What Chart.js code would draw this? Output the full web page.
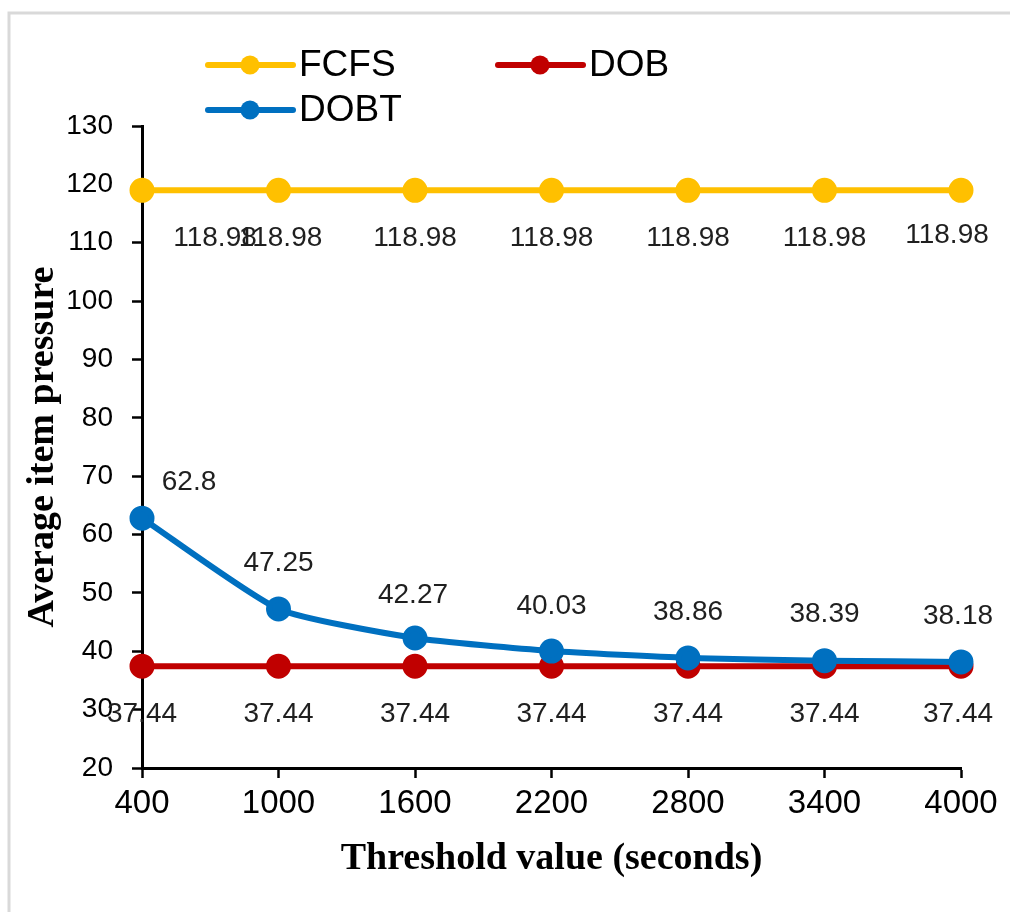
<!DOCTYPE html>
<html>
<head>
<meta charset="utf-8">
<script src="https://cdn.jsdelivr.net/npm/chart.js@4/dist/chart.umd.min.js"></script>
<style>
  html, body { margin: 0; padding: 0; background: #ffffff; overflow: hidden; }
  #wrap { width: 1010px; height: 912px; }
</style>
</head>
<body>
<div id="wrap"><canvas id="chart" width="1010" height="912"></canvas></div>
<script>
// Threshold values on the x axis (seconds)
const thresholds = ['400', '1000', '1600', '2200', '2800', '3400', '4000'];

// Average item pressure per scheduling policy
const fcfsValues = [118.98, 118.98, 118.98, 118.98, 118.98, 118.98, 118.98];
const dobValues  = [37.44, 37.44, 37.44, 37.44, 37.44, 37.44, 37.44];
const dobtValues = [62.8, 47.25, 42.27, 40.03, 38.86, 38.39, 38.18];

// Series names
const seriesNames = ['FCFS', 'DOB', 'DOBT'];

// Y axis range
const yMin = 20;
const yMax = 130;
const yStep = 10;

const COLORS = { FCFS: '#FFC000', DOB: '#C00000', DOBT: '#0070C0' };

// Value-label placement per series (pixel nudges relative to each point)
const labelPlacement = {
  FCFS: { dx: [73, 2, 0, 0, 0, 0, -14], dy: [48, 48, 48, 48, 48, 48, 45] },
  DOB:  { dx: [0, 0, 0, 0, 0, 0, -3],   dy: [48, 48, 48, 48, 48, 48, 48] },
  DOBT: { dx: [47, 0, -2, 0, 0, 0, -3], dy: [-36, -46, -43, -45, -46, -46, -46] }
};

// Legend entry positions (line start x, center y)
const legendSlots = [
  { x: 208, y: 65 },
  { x: 498, y: 65 },
  { x: 208, y: 110 }
];

const SANS = '"Liberation Sans", Arial, sans-serif';
const SERIF = '"Liberation Serif", "Times New Roman", serif';

function lineSet(name, values, order, tension) {
  return {
    label: name,
    data: values,
    borderColor: COLORS[name],
    backgroundColor: COLORS[name],
    pointBackgroundColor: COLORS[name],
    pointBorderColor: COLORS[name],
    borderWidth: 6,
    pointRadius: 9.5,
    pointHoverRadius: 9.5,
    tension: tension,
    order: order,
    fill: false
  };
}

// Outer chart frame (top and left edges; the rest runs past the canvas)
const framePlugin = {
  id: 'frame',
  beforeDraw(chart) {
    const ctx = chart.ctx;
    ctx.save();
    ctx.fillStyle = '#ffffff';
    ctx.fillRect(0, 0, chart.width, chart.height);
    ctx.strokeStyle = '#d9d9d9';
    ctx.lineWidth = 3;
    ctx.beginPath();
    ctx.moveTo(9, chart.height + 5);
    ctx.lineTo(9, 13);
    ctx.lineTo(chart.width + 5, 13);
    ctx.stroke();
    ctx.restore();
  }
};

// Numeric labels next to every point
const valueLabels = {
  id: 'valueLabels',
  afterDatasetsDraw(chart) {
    const ctx = chart.ctx;
    ctx.save();
    ctx.font = '28px ' + SANS;
    ctx.fillStyle = '#1f1f1f';
    ctx.textAlign = 'center';
    ctx.textBaseline = 'middle';
    chart.data.datasets.forEach((ds, i) => {
      const meta = chart.getDatasetMeta(i);
      const place = labelPlacement[ds.label];
      meta.data.forEach((pt, j) => {
        ctx.fillText(String(ds.data[j]), pt.x + place.dx[j], pt.y + place.dy[j]);
      });
    });
    ctx.restore();
  }
};

// Legend with line-and-marker swatches
const lineLegend = {
  id: 'lineLegend',
  afterDraw(chart) {
    const ctx = chart.ctx;
    ctx.save();
    chart.data.datasets.forEach((ds, i) => {
      const slot = legendSlots[i];
      ctx.strokeStyle = ds.borderColor;
      ctx.lineWidth = 6;
      ctx.lineCap = 'round';
      ctx.beginPath();
      ctx.moveTo(slot.x, slot.y);
      ctx.lineTo(slot.x + 85, slot.y);
      ctx.stroke();
      ctx.fillStyle = ds.borderColor;
      ctx.beginPath();
      ctx.arc(slot.x + 42, slot.y, 9.5, 0, Math.PI * 2);
      ctx.fill();
      ctx.fillStyle = '#000000';
      ctx.font = '37px ' + SANS;
      ctx.textAlign = 'left';
      ctx.textBaseline = 'middle';
      ctx.fillText(ds.label, slot.x + 91, slot.y + 1);
    });
    ctx.restore();
  }
};

new Chart(document.getElementById('chart'), {
  type: 'line',
  data: {
    labels: thresholds,
    datasets: [
      lineSet(seriesNames[0], fcfsValues, 2, 0),
      lineSet(seriesNames[1], dobValues, 1, 0),
      lineSet(seriesNames[2], dobtValues, 0, 0.18)
    ]
  },
  options: {
    responsive: false,
    animation: false,
    events: [],
    layout: { padding: { left: 0, top: 126, right: 49, bottom: 0 } },
    plugins: {
      legend: { display: false },
      tooltip: { enabled: false },
      title: { display: false }
    },
    scales: {
      x: {
        type: 'category',
        offset: false,
        afterFit(scale) { scale.height = 912 - 768; },
        grid: {
          drawOnChartArea: false,
          drawTicks: true,
          tickLength: 10,
          tickColor: '#000000',
          tickWidth: 2.5
        },
        border: { display: true, color: '#000000', width: 3 },
        ticks: {
          color: '#000000',
          font: { family: SANS, size: 33 },
          padding: 6,
          maxRotation: 0,
          autoSkip: false
        },
        title: {
          display: true,
          text: 'Threshold value (seconds)',
          color: '#000000',
          font: { family: SERIF, size: 38, weight: 'bold' },
          padding: { top: 0, bottom: 30 }
        }
      },
      y: {
        min: yMin,
        max: yMax,
        afterFit(scale) { scale.width = 142; },
        grid: {
          drawOnChartArea: false,
          drawTicks: true,
          tickLength: 10,
          tickColor: '#000000',
          tickWidth: 2.5
        },
        border: { display: true, color: '#000000', width: 3 },
        ticks: {
          stepSize: yStep,
          color: '#000000',
          font: { family: SANS, size: 28 },
          padding: 19
        },
        title: {
          display: true,
          text: 'Average item pressure',
          color: '#000000',
          font: { family: SERIF, size: 38, weight: 'bold' },
          padding: { top: 20, bottom: 0 }
        }
      }
    }
  },
  plugins: [framePlugin, valueLabels, lineLegend]
});
</script>
</body>
</html>
